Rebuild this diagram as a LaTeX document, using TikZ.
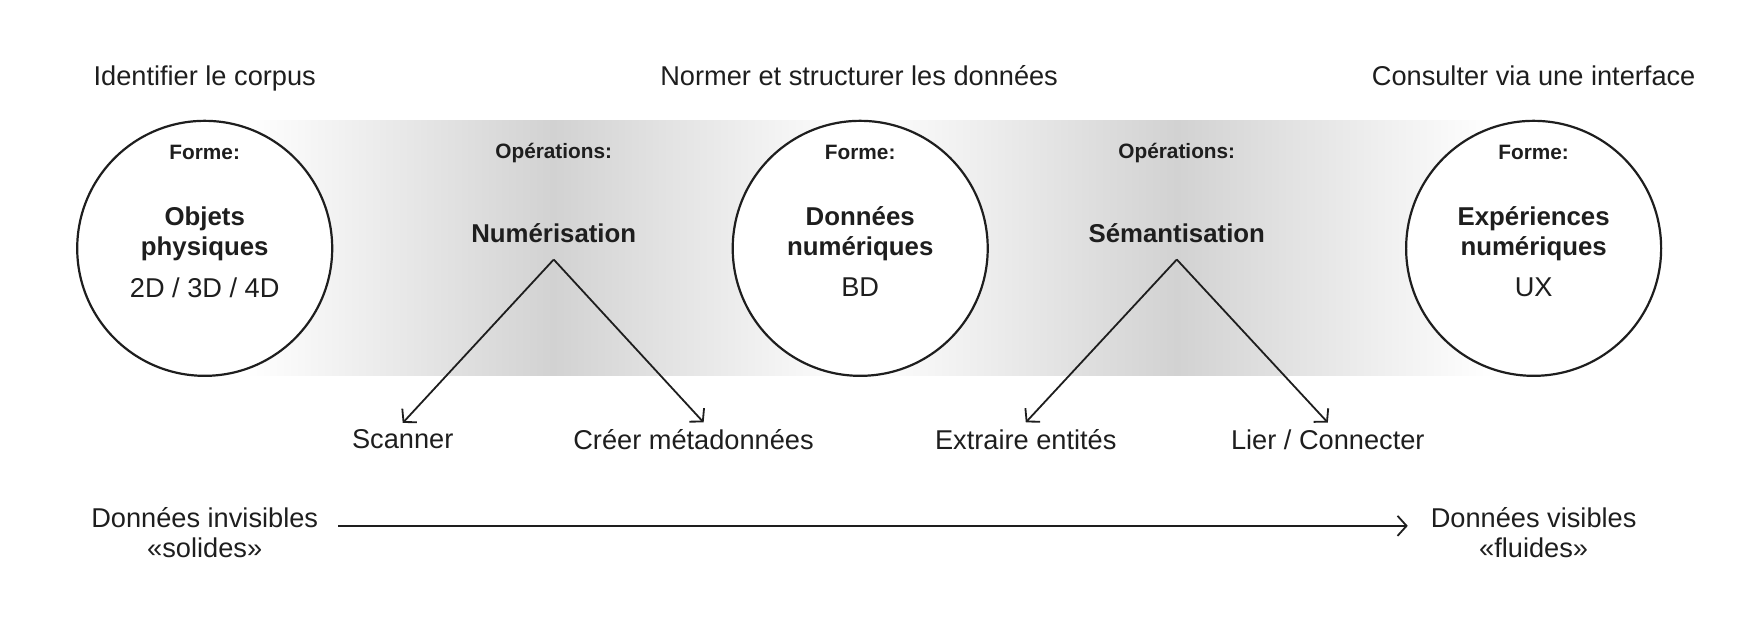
\documentclass[tikz,border=0pt]{standalone}
\usepackage{fontspec}
\setmainfont{Liberation Sans}
\usetikzlibrary{arrows.meta,positioning}
\definecolor{ink}{HTML}{1E1E1E}
\definecolor{bandgray}{HTML}{D2D2D2}

\begin{document}
\begin{tikzpicture}[x=0.5593pt, y=-0.5593pt, text=ink,
    stage/.style = {draw=ink, line width=1.1pt, circle, fill=white, minimum size=127.5pt, inner sep=0pt},
    small/.style = {font=\fontsize{10.4}{12.3}\selectfont\bfseries},
    title/.style = {font=\fontsize{12.9}{15.1}\selectfont\bfseries, align=center},
    plain/.style = {font=\fontsize{13.6}{15.1}\selectfont, align=center},
    arr/.style = {draw=ink, line width=0.9pt, -{Straight Barb[length=4.5pt,width=10pt]}}]
  \useasboundingbox (0,0) rectangle (1568,573);
  % Grey band behind the stages
  \shade[left color=white, right color=white, middle color=bandgray] (220,108) rectangle (769,336);
  \shade[left color=white, right color=white, middle color=bandgray] (769,108) rectangle (1335,336);
  % Headings
  \node[plain] (h1) at (183,70) {Identifier le corpus};
  \node[plain] (h2) at (768,68) {Normer et structurer les données};
  \node[plain] (h3) at (1371,68) {Consulter via une interface};
  % Stages
  \node[stage] (s1) at (183,222) {};
  \node[stage] (s2) at (769,222) {};
  \node[stage] (s3) at (1371,222) {};
  \node[small] (f1) at (183,136) {Forme:};
  \node[small] (f2) at (769,136) {Forme:};
  \node[small] (f3) at (1371,136) {Forme:};
  \node[title] (t1) at (183,209) {Objets\\physiques};
  \node[title] (t2) at (769,209) {Données\\numériques};
  \node[title] (t3) at (1371,209) {Expériences\\numériques};
  \node[plain] (d1) at (183,257) {2D / 3D / 4D};
  \node[plain] (d2) at (769,257) {BD};
  \node[plain] (d3) at (1371,257) {UX};
  % Operations
  \node[small] (o1) at (495,137) {Opérations:};
  \node[small] (o2) at (1052,137) {Opérations:};
  \node[title] (num) at (495,208) {Numérisation};
  \node[title] (sem) at (1052,208) {Sémantisation};
  \coordinate (numtip) at (495,232);
  \coordinate (semtip) at (1052,232);
  \node[plain] (scan) at (360,393) {Scanner};
  \node[plain] (meta) at (620,393) {Créer métadonnées};
  \node[plain] (extr) at (917,393) {Extraire entités};
  \node[plain] (lier) at (1187,393) {Lier / Connecter};
  \draw[arr] (numtip) -- (scan.north);
  \draw[arr] (numtip) -- (meta.north -| 629,0);
  \draw[arr] (semtip) -- (extr.north);
  \draw[arr] (semtip) -- (lier.north);
  % Bottom axis
  \node[plain] (inv) at (183,476) {Données invisibles\\«solides»};
  \node[plain] (vis) at (1371,476) {Données visibles\\«fluides»};
  \draw[arr, shorten <=6.5pt, shorten >=8pt] ([yshift=3.3pt]inv.east) -- ([yshift=3.3pt]vis.west);
\end{tikzpicture}
\end{document}
